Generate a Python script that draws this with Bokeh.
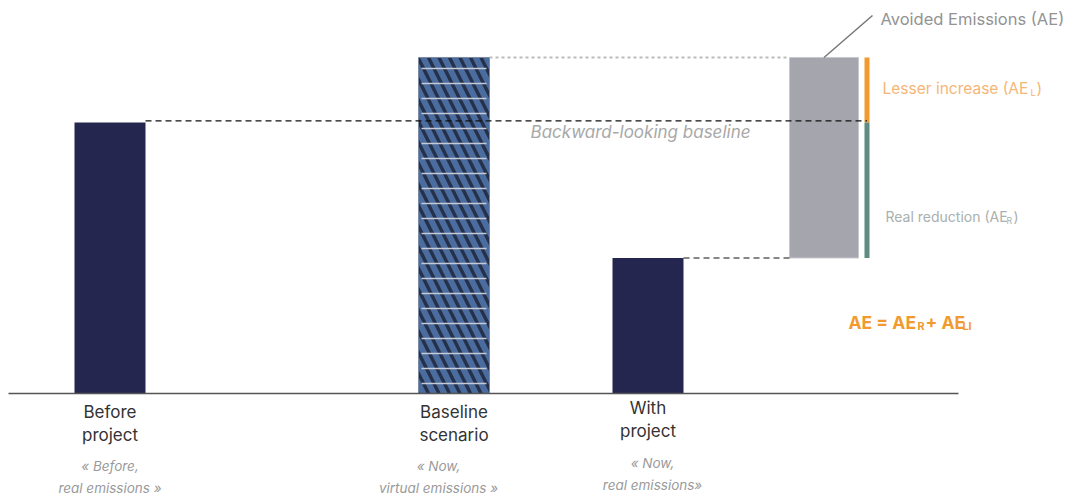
from bokeh.plotting import figure
from bokeh.models import Range1d
from bokeh.core.properties import value
from bokeh.embed import file_html
from bokeh.resources import INLINE

# ---- data ----
categories = ["Before\nproject", "Baseline\nscenario", "With\nproject"]
subtitles = ["« Before,\nreal emissions »", "« Now,\nvirtual emissions »", "« Now,\nreal emissions»"]
emissions = [100, 124, 50]          # before, baseline, with project

# ---- layout ----
bar_x = [109.5, 453.5, 647.5]
sub_x = [109.5, 438, 652]
bar_w = 71
ae_x = 823.5
ae_w = 69
side_x = 866.5
side_w = 5

FONT = "Inter"
W, H = 1086, 498
SCALE = 2.71
p = figure(width=W, height=H, output_backend="svg", toolbar_location=None,
           x_range=Range1d(0, W), y_range=Range1d(-105 / SCALE, 393 / SCALE),
           min_border=0)
p.axis.visible = False
p.grid.visible = False
p.outline_line_color = None
p.background_fill_color = "white"

def px(y):
    return (393 - y) / SCALE

navy = "#24264f"
# solid bars
p.vbar(x=[bar_x[0], bar_x[2]], top=[emissions[0], emissions[2]], bottom=0, width=bar_w,
       fill_color=navy, line_color=None)
# hatched baseline bar
p.vbar(x=[bar_x[1]], top=[emissions[1]], bottom=0, width=bar_w,
       fill_color="#25304a", line_color="#7d8aa3", line_width=1,
       hatch_pattern="\\", hatch_color="#4a6c9e", hatch_scale=21, hatch_weight=6)
p.vbar(x=[bar_x[1]], top=[emissions[1]], bottom=0, width=bar_w - 6,
       fill_color=None, line_color=None,
       hatch_pattern="-", hatch_color="#c5cbd6", hatch_scale=15, hatch_weight=1.5)

# AE bar
p.vbar(x=[ae_x], top=[emissions[1]], bottom=[emissions[2]], width=ae_w,
       fill_color="#a5a6ad", line_color="#c8c9cc", line_width=1)
p.vbar(x=[side_x], top=[emissions[1]], bottom=[emissions[0]], width=side_w,
       fill_color="#f29a2e", line_color=None)
p.vbar(x=[side_x], top=[emissions[0]], bottom=[emissions[2]], width=side_w,
       fill_color="#5e8c80", line_color=None)

# reference lines
p.line([bar_x[0] + bar_w / 2, side_x], [emissions[0] + 0.6, emissions[0] + 0.6],
       line_color="#111111", line_dash="6 4", line_width=1.2)
p.line([bar_x[1] + bar_w / 2, ae_x - ae_w / 2], [emissions[1], emissions[1]],
       line_color="#bbbbbb", line_dash="3 3", line_width=2)
p.line([bar_x[2] + bar_w / 2, ae_x - ae_w / 2], [emissions[2], emissions[2]],
       line_color="#111111", line_dash="6 4", line_width=1.2)

# axis line
p.line([8, 958], [0, 0], line_color="#555555", line_width=1.5)

# leader line
p.line([ae_x, 872], [emissions[1], px(15)], line_color="#777777", line_width=1.5)

# category labels
p.text(x=bar_x, y=[px(401), px(401), px(397)], text=categories, text_align="center",
       text_baseline="top", text_font=value(FONT), text_font_size="17px",
       text_color="#333333", text_line_height=1.18)
p.text(x=sub_x, y=[px(457), px(457), px(454)], text=subtitles, text_align="center",
       text_baseline="top", text_font=value(FONT), text_font_size="13.5px",
       text_font_style="italic", text_color="#9a9a9a", text_line_height=1.4)

# baseline label
p.text(x=[640], y=[px(131)], text=["Backward-looking baseline"], text_align="center",
       text_baseline="middle", text_font=value(FONT), text_font_size="17px",
       text_font_style="italic", text_color="#a8a8a8")

# right annotations
p.text(x=[880], y=[px(18)], text=["Avoided Emissions (AE)"], text_baseline="middle",
       text_font=value(FONT), text_font_size="16.5px", text_font_style="normal",
       text_color="#939393")

def sub_label(x0, y0, parts, color, size, style="normal"):
    # parts: list of (text, is_sub, width_px)
    x = x0
    for t, is_sub, w in parts:
        fs = size * 0.62 if is_sub else size
        yy = y0 + (4 if is_sub else 0)
        p.text(x=[x], y=[px(yy)], text=[t], text_baseline="middle",
               text_font=value(FONT), text_font_size=f"{fs:.1f}px",
               text_font_style=style, text_color=color)
        x += w

sub_label(882, 88, [("Lesser increase (AE", False, 148), ("L", True, 6), (")", False, 5)],
          "#f5b677", 15.5)
sub_label(885, 216, [("Real reduction (AE", False, 121), ("R", True, 7), (")", False, 5)],
          "#a9b0ae", 14)
sub_label(848, 322, [("AE = AE", False, 69), ("R", True, 8), ("+ AE", False, 37), ("LI", True, 10)],
          "#f29a2e", 17.5, "bold")

open("out.html", "w").write(file_html(p, INLINE))
